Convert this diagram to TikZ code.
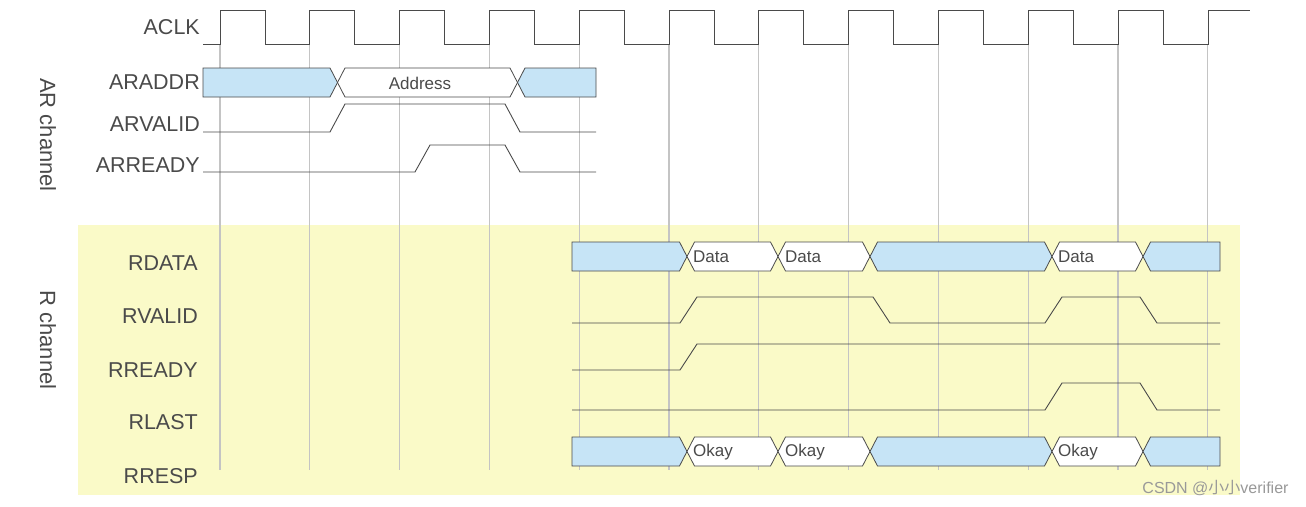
\documentclass[tikz,border=0pt]{standalone}
\usepackage{fontspec}
\setmainfont{Liberation Sans}
\newfontfamily\cjk{Noto Sans CJK SC}
\definecolor{busblue}{HTML}{C6E4F6}
\definecolor{bgyellow}{HTML}{FAFAC8}
\definecolor{sig}{HTML}{4A4A4A}
\definecolor{grid}{HTML}{C4C4C4}
% bus segment: fill, x1, x2, top, bottom, leftflat(1/0), rightflat(1/0)
\newcommand\bseg[7]{%
  \pgfmathsetmacro\mymid{(#4+#5)/2}%
  \pgfmathsetmacro\xl{#2+7.5*(1-#6)}\pgfmathsetmacro\xr{#3-7.5*(1-#7)}%
  \filldraw[fill=#1,draw=sig,line width=0.8pt]
   (#2,\mymid) -- (\xl,#4) -- (\xr,#4) -- (#3,\mymid) -- (\xr,#5) -- (\xl,#5) -- cycle;}
\begin{document}
\begin{tikzpicture}[x=1pt,y=-1pt,
  lbl/.style={anchor=east,font=\fontsize{21.5}{21.5}\selectfont,text=sig,inner sep=0pt},
  btxt/.style={anchor=west,font=\fontsize{17}{17}\selectfont,text=sig,inner sep=0pt},
  wave/.style={draw=sig,line width=0.9pt}]
\useasboundingbox (0,0) rectangle (1306,506);
\fill[white] (0,0) rectangle (1306,506);
\fill[bgyellow] (78,225) rectangle (1240,495);
% grid lines
\foreach \i in {0,...,11}{\draw[grid,line width=1.2pt] ({220+89.8*\i},44) -- ({220+89.8*\i},470);}
% clock
\draw[wave] (203,44) \foreach \i in {0,...,10}{ -- ({220+89.8*\i},44) -- ({220+89.8*\i},10) -- ({265+89.8*\i},10) -- ({265+89.8*\i},44)} -- (1208,44) -- (1208,10) -- (1250,10);
% labels
\node[lbl] (aclk) at (200,27) {ACLK};
\node[lbl] (araddr) at (200,82) {ARADDR};
\node[lbl] (arvalid) at (200,124) {ARVALID};
\node[lbl] (arready) at (200,165) {ARREADY};
\node[lbl] (rdata) at (198,263) {RDATA};
\node[lbl] (rvalid) at (198,316) {RVALID};
\node[lbl] (rready) at (198,370) {RREADY};
\node[lbl] (rlast) at (198,422) {RLAST};
\node[lbl] (rresp) at (198,476) {RRESP};
\node[rotate=-90,font=\fontsize{22}{22}\selectfont,text=sig] (arch) at (48,135) {AR channel};
\node[rotate=-90,font=\fontsize{22}{22}\selectfont,text=sig] (rch) at (48,340) {R channel};
% ARADDR
\bseg{busblue}{203}{337.5}{68}{97}{1}{0}
\bseg{white}{337.5}{517.5}{68}{97}{0}{0}
\bseg{busblue}{517.5}{596}{68}{97}{0}{1}
\node[font=\fontsize{17}{17}\selectfont,text=sig] (addr) at (420,83) {Address};
% ARVALID / ARREADY
\draw[wave] (203,132) -- (330,132) -- (345,104) -- (505,104) -- (520,132) -- (596,132);
\draw[wave] (203,172) -- (415,172) -- (430,145) -- (505,145) -- (520,172) -- (596,172);
% RDATA / RRESP
\foreach \y/\t in {242/Data,437/Okay}{
 \pgfmathsetmacro\yb{\y+29}
 \bseg{busblue}{572}{687}{\y}{\yb}{1}{0}
 \bseg{white}{687}{778}{\y}{\yb}{0}{0}
 \bseg{white}{778}{870}{\y}{\yb}{0}{0}
 \bseg{busblue}{870}{1052}{\y}{\yb}{0}{0}
 \bseg{white}{1052}{1143}{\y}{\yb}{0}{0}
 \bseg{busblue}{1143}{1220}{\y}{\yb}{0}{1}
 \pgfmathsetmacro\yt{\y+15}
 \node[btxt] at (693,\yt) {\t};
 \node[btxt] at (785,\yt) {\t};
 \node[btxt] at (1058,\yt) {\t};
}
% RVALID, RREADY, RLAST
\draw[wave] (572,323) -- (680,323) -- (697,297) -- (873,297) -- (890,323) -- (1045,323) -- (1062,297) -- (1140,297) -- (1157,323) -- (1220,323);
\draw[wave] (572,370) -- (680,370) -- (697,344) -- (1220,344);
\draw[wave] (572,410) -- (1045,410) -- (1062,383) -- (1140,383) -- (1157,410) -- (1220,410);
% watermark
\node[anchor=east,font=\fontsize{16}{16}\selectfont,text=gray!80] (wm) at (1292,488) {CSDN @{\cjk 小小}verifier};
\end{tikzpicture}
\end{document}
